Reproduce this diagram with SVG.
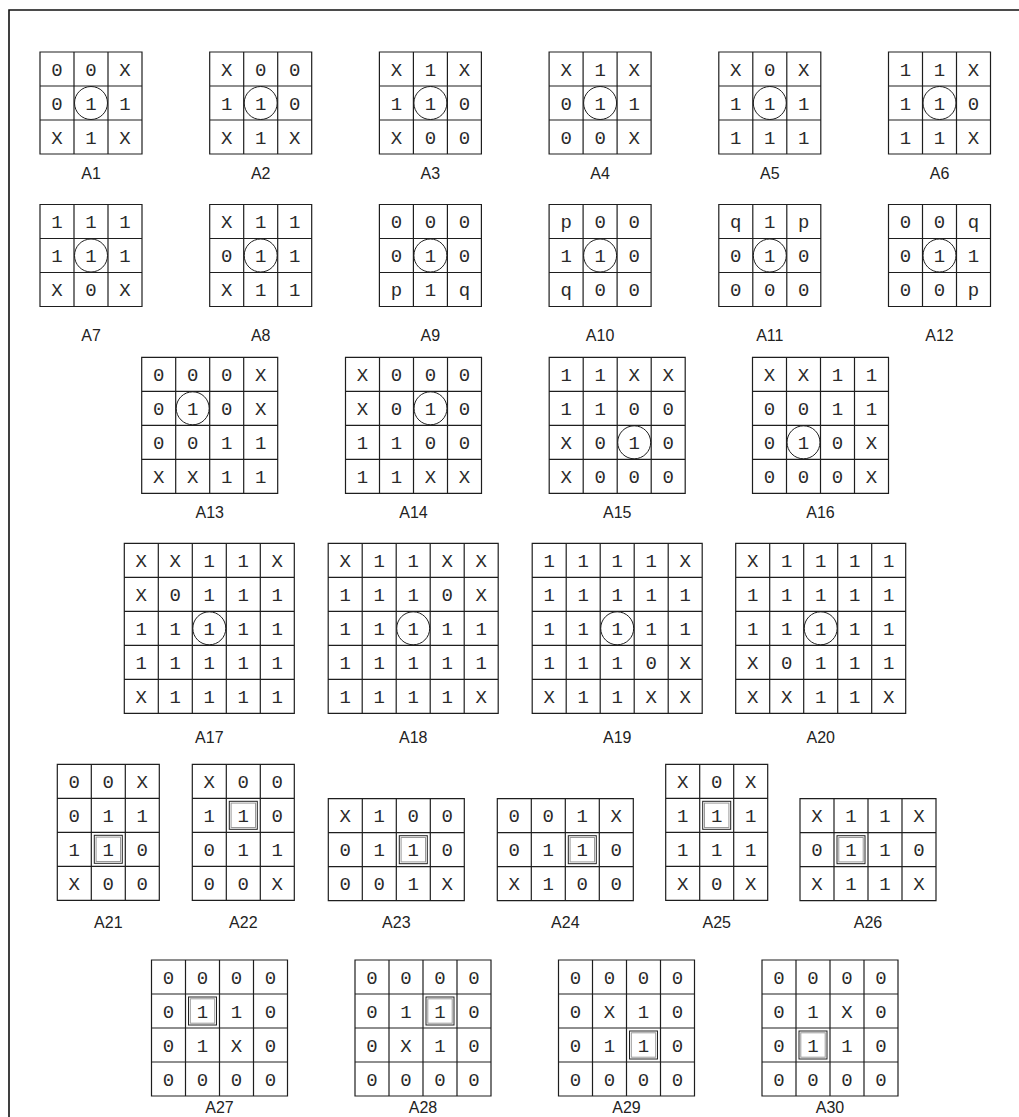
<svg xmlns="http://www.w3.org/2000/svg" xmlns:xlink="http://www.w3.org/1999/xlink" width="1019" height="1117" viewBox="0 0 1019 1117">
<style>
.g{fill:none;stroke:#1e1e1e;stroke-width:1.2}
.t text{font-family:"Liberation Mono","DejaVu Sans Mono",monospace;font-size:19px;fill:#2a2a2a;text-anchor:middle}
.t text.l{font-family:"Liberation Sans","DejaVu Sans",sans-serif;font-size:16px;fill:#222}
.ci{fill:none;stroke:#1e1e1e;stroke-width:1}
</style>
<defs>
<path id="g33" class="g" d="M0 0H102V102H0Z M34 0V102 M68 0V102 M0 34H102 M0 68H102"/>
<path id="g44" class="g" d="M0 0H136V136H0Z M34 0V136 M68 0V136 M102 0V136 M0 34H136 M0 68H136 M0 102H136"/>
<path id="g55" class="g" d="M0 0H170V170H0Z M34 0V170 M68 0V170 M102 0V170 M136 0V170 M0 34H170 M0 68H170 M0 102H170 M0 136H170"/>
<path id="g34" class="g" d="M0 0H102V136H0Z M34 0V136 M68 0V136 M0 34H102 M0 68H102 M0 102H102"/>
<path id="g43" class="g" d="M0 0H136V102H0Z M34 0V102 M68 0V102 M102 0V102 M0 34H136 M0 68H136"/>
<g id="bx"><rect x="0" y="0" width="28" height="28" fill="none" stroke="#222" stroke-width="1"/><rect x="1.8" y="1.8" width="24.4" height="24.4" fill="none" stroke="#9a9a9a" stroke-width="1"/></g>
</defs>
<rect width="1019" height="1117" fill="#fff"/>
<path d="M9 1117V10H1019" fill="none" stroke="#111" stroke-width="1.6"/>
<g class="t">
<!-- Row 1 -->
<g id="A1" transform="translate(40,52)"><use href="#g33"/><circle class="ci" cx="51" cy="51" r="16.5"/>
<text x="17" y="23.5">0</text><text x="51" y="23.5">0</text><text x="85" y="23.5">X</text>
<text x="17" y="57.5">0</text><text x="51" y="57.5">1</text><text x="85" y="57.5">1</text>
<text x="17" y="91.5">X</text><text x="51" y="91.5">1</text><text x="85" y="91.5">X</text>
<text class="l" x="51" y="127">A1</text></g>
<g id="A2" transform="translate(209.7,52)"><use href="#g33"/><circle class="ci" cx="51" cy="51" r="16.5"/>
<text x="17" y="23.5">X</text><text x="51" y="23.5">0</text><text x="85" y="23.5">0</text>
<text x="17" y="57.5">1</text><text x="51" y="57.5">1</text><text x="85" y="57.5">0</text>
<text x="17" y="91.5">X</text><text x="51" y="91.5">1</text><text x="85" y="91.5">X</text>
<text class="l" x="51" y="127">A2</text></g>
<g id="A3" transform="translate(379.4,52)"><use href="#g33"/><circle class="ci" cx="51" cy="51" r="16.5"/>
<text x="17" y="23.5">X</text><text x="51" y="23.5">1</text><text x="85" y="23.5">X</text>
<text x="17" y="57.5">1</text><text x="51" y="57.5">1</text><text x="85" y="57.5">0</text>
<text x="17" y="91.5">X</text><text x="51" y="91.5">0</text><text x="85" y="91.5">0</text>
<text class="l" x="51" y="127">A3</text></g>
<g id="A4" transform="translate(549.1,52)"><use href="#g33"/><circle class="ci" cx="51" cy="51" r="16.5"/>
<text x="17" y="23.5">X</text><text x="51" y="23.5">1</text><text x="85" y="23.5">X</text>
<text x="17" y="57.5">0</text><text x="51" y="57.5">1</text><text x="85" y="57.5">1</text>
<text x="17" y="91.5">0</text><text x="51" y="91.5">0</text><text x="85" y="91.5">X</text>
<text class="l" x="51" y="127">A4</text></g>
<g id="A5" transform="translate(718.8,52)"><use href="#g33"/><circle class="ci" cx="51" cy="51" r="16.5"/>
<text x="17" y="23.5">X</text><text x="51" y="23.5">0</text><text x="85" y="23.5">X</text>
<text x="17" y="57.5">1</text><text x="51" y="57.5">1</text><text x="85" y="57.5">1</text>
<text x="17" y="91.5">1</text><text x="51" y="91.5">1</text><text x="85" y="91.5">1</text>
<text class="l" x="51" y="127">A5</text></g>
<g id="A6" transform="translate(888.5,52)"><use href="#g33"/><circle class="ci" cx="51" cy="51" r="16.5"/>
<text x="17" y="23.5">1</text><text x="51" y="23.5">1</text><text x="85" y="23.5">X</text>
<text x="17" y="57.5">1</text><text x="51" y="57.5">1</text><text x="85" y="57.5">0</text>
<text x="17" y="91.5">1</text><text x="51" y="91.5">1</text><text x="85" y="91.5">X</text>
<text class="l" x="51" y="127">A6</text></g>
<!-- Row 2 -->
<g id="A7" transform="translate(40,204.5)"><use href="#g33"/><circle class="ci" cx="51" cy="51" r="16.5"/>
<text x="17" y="23.5">1</text><text x="51" y="23.5">1</text><text x="85" y="23.5">1</text>
<text x="17" y="57.5">1</text><text x="51" y="57.5">1</text><text x="85" y="57.5">1</text>
<text x="17" y="91.5">X</text><text x="51" y="91.5">0</text><text x="85" y="91.5">X</text>
<text class="l" x="51" y="136.5">A7</text></g>
<g id="A8" transform="translate(209.7,204.5)"><use href="#g33"/><circle class="ci" cx="51" cy="51" r="16.5"/>
<text x="17" y="23.5">X</text><text x="51" y="23.5">1</text><text x="85" y="23.5">1</text>
<text x="17" y="57.5">0</text><text x="51" y="57.5">1</text><text x="85" y="57.5">1</text>
<text x="17" y="91.5">X</text><text x="51" y="91.5">1</text><text x="85" y="91.5">1</text>
<text class="l" x="51" y="136.5">A8</text></g>
<g id="A9" transform="translate(379.4,204.5)"><use href="#g33"/><circle class="ci" cx="51" cy="51" r="16.5"/>
<text x="17" y="23.5">0</text><text x="51" y="23.5">0</text><text x="85" y="23.5">0</text>
<text x="17" y="57.5">0</text><text x="51" y="57.5">1</text><text x="85" y="57.5">0</text>
<text x="17" y="91.5">p</text><text x="51" y="91.5">1</text><text x="85" y="91.5">q</text>
<text class="l" x="51" y="136.5">A9</text></g>
<g id="A10" transform="translate(549.1,204.5)"><use href="#g33"/><circle class="ci" cx="51" cy="51" r="16.5"/>
<text x="17" y="23.5">p</text><text x="51" y="23.5">0</text><text x="85" y="23.5">0</text>
<text x="17" y="57.5">1</text><text x="51" y="57.5">1</text><text x="85" y="57.5">0</text>
<text x="17" y="91.5">q</text><text x="51" y="91.5">0</text><text x="85" y="91.5">0</text>
<text class="l" x="51" y="136.5">A10</text></g>
<g id="A11" transform="translate(718.8,204.5)"><use href="#g33"/><circle class="ci" cx="51" cy="51" r="16.5"/>
<text x="17" y="23.5">q</text><text x="51" y="23.5">1</text><text x="85" y="23.5">p</text>
<text x="17" y="57.5">0</text><text x="51" y="57.5">1</text><text x="85" y="57.5">0</text>
<text x="17" y="91.5">0</text><text x="51" y="91.5">0</text><text x="85" y="91.5">0</text>
<text class="l" x="51" y="136.5">A11</text></g>
<g id="A12" transform="translate(888.5,204.5)"><use href="#g33"/><circle class="ci" cx="51" cy="51" r="16.5"/>
<text x="17" y="23.5">0</text><text x="51" y="23.5">0</text><text x="85" y="23.5">q</text>
<text x="17" y="57.5">0</text><text x="51" y="57.5">1</text><text x="85" y="57.5">1</text>
<text x="17" y="91.5">0</text><text x="51" y="91.5">0</text><text x="85" y="91.5">p</text>
<text class="l" x="51" y="136.5">A12</text></g>
<!-- Row 3 -->
<g id="A13" transform="translate(141.7,357.3)"><use href="#g44"/><circle class="ci" cx="51" cy="51" r="16.5"/>
<text x="17" y="23.5">0</text><text x="51" y="23.5">0</text><text x="85" y="23.5">0</text><text x="119" y="23.5">X</text>
<text x="17" y="57.5">0</text><text x="51" y="57.5">1</text><text x="85" y="57.5">0</text><text x="119" y="57.5">X</text>
<text x="17" y="91.5">0</text><text x="51" y="91.5">0</text><text x="85" y="91.5">1</text><text x="119" y="91.5">1</text>
<text x="17" y="125.5">X</text><text x="51" y="125.5">X</text><text x="85" y="125.5">1</text><text x="119" y="125.5">1</text>
<text class="l" x="68" y="160.4">A13</text></g>
<g id="A14" transform="translate(345.5,357.3)"><use href="#g44"/><circle class="ci" cx="85" cy="51" r="16.5"/>
<text x="17" y="23.5">X</text><text x="51" y="23.5">0</text><text x="85" y="23.5">0</text><text x="119" y="23.5">0</text>
<text x="17" y="57.5">X</text><text x="51" y="57.5">0</text><text x="85" y="57.5">1</text><text x="119" y="57.5">0</text>
<text x="17" y="91.5">1</text><text x="51" y="91.5">1</text><text x="85" y="91.5">0</text><text x="119" y="91.5">0</text>
<text x="17" y="125.5">1</text><text x="51" y="125.5">1</text><text x="85" y="125.5">X</text><text x="119" y="125.5">X</text>
<text class="l" x="68" y="160.4">A14</text></g>
<g id="A15" transform="translate(549.2,357.3)"><use href="#g44"/><circle class="ci" cx="85" cy="85" r="16.5"/>
<text x="17" y="23.5">1</text><text x="51" y="23.5">1</text><text x="85" y="23.5">X</text><text x="119" y="23.5">X</text>
<text x="17" y="57.5">1</text><text x="51" y="57.5">1</text><text x="85" y="57.5">0</text><text x="119" y="57.5">0</text>
<text x="17" y="91.5">X</text><text x="51" y="91.5">0</text><text x="85" y="91.5">1</text><text x="119" y="91.5">0</text>
<text x="17" y="125.5">X</text><text x="51" y="125.5">0</text><text x="85" y="125.5">0</text><text x="119" y="125.5">0</text>
<text class="l" x="68" y="160.4">A15</text></g>
<g id="A16" transform="translate(752.5,357.3)"><use href="#g44"/><circle class="ci" cx="51" cy="85" r="16.5"/>
<text x="17" y="23.5">X</text><text x="51" y="23.5">X</text><text x="85" y="23.5">1</text><text x="119" y="23.5">1</text>
<text x="17" y="57.5">0</text><text x="51" y="57.5">0</text><text x="85" y="57.5">1</text><text x="119" y="57.5">1</text>
<text x="17" y="91.5">0</text><text x="51" y="91.5">1</text><text x="85" y="91.5">0</text><text x="119" y="91.5">X</text>
<text x="17" y="125.5">0</text><text x="51" y="125.5">0</text><text x="85" y="125.5">0</text><text x="119" y="125.5">X</text>
<text class="l" x="68" y="160.4">A16</text></g>
<!-- Row 4 -->
<g id="A17" transform="translate(124.3,543.3)"><use href="#g55"/><circle class="ci" cx="85" cy="85" r="16.5"/>
<text x="17" y="23.5">X</text><text x="51" y="23.5">X</text><text x="85" y="23.5">1</text><text x="119" y="23.5">1</text><text x="153" y="23.5">X</text>
<text x="17" y="57.5">X</text><text x="51" y="57.5">0</text><text x="85" y="57.5">1</text><text x="119" y="57.5">1</text><text x="153" y="57.5">1</text>
<text x="17" y="91.5">1</text><text x="51" y="91.5">1</text><text x="85" y="91.5">1</text><text x="119" y="91.5">1</text><text x="153" y="91.5">1</text>
<text x="17" y="125.5">1</text><text x="51" y="125.5">1</text><text x="85" y="125.5">1</text><text x="119" y="125.5">1</text><text x="153" y="125.5">1</text>
<text x="17" y="159.5">X</text><text x="51" y="159.5">1</text><text x="85" y="159.5">1</text><text x="119" y="159.5">1</text><text x="153" y="159.5">1</text>
<text class="l" x="85" y="199.4">A17</text></g>
<g id="A18" transform="translate(328.2,543.3)"><use href="#g55"/><circle class="ci" cx="85" cy="85" r="16.5"/>
<text x="17" y="23.5">X</text><text x="51" y="23.5">1</text><text x="85" y="23.5">1</text><text x="119" y="23.5">X</text><text x="153" y="23.5">X</text>
<text x="17" y="57.5">1</text><text x="51" y="57.5">1</text><text x="85" y="57.5">1</text><text x="119" y="57.5">0</text><text x="153" y="57.5">X</text>
<text x="17" y="91.5">1</text><text x="51" y="91.5">1</text><text x="85" y="91.5">1</text><text x="119" y="91.5">1</text><text x="153" y="91.5">1</text>
<text x="17" y="125.5">1</text><text x="51" y="125.5">1</text><text x="85" y="125.5">1</text><text x="119" y="125.5">1</text><text x="153" y="125.5">1</text>
<text x="17" y="159.5">1</text><text x="51" y="159.5">1</text><text x="85" y="159.5">1</text><text x="119" y="159.5">1</text><text x="153" y="159.5">X</text>
<text class="l" x="85" y="199.4">A18</text></g>
<g id="A19" transform="translate(532.2,543.3)"><use href="#g55"/><circle class="ci" cx="85" cy="85" r="16.5"/>
<text x="17" y="23.5">1</text><text x="51" y="23.5">1</text><text x="85" y="23.5">1</text><text x="119" y="23.5">1</text><text x="153" y="23.5">X</text>
<text x="17" y="57.5">1</text><text x="51" y="57.5">1</text><text x="85" y="57.5">1</text><text x="119" y="57.5">1</text><text x="153" y="57.5">1</text>
<text x="17" y="91.5">1</text><text x="51" y="91.5">1</text><text x="85" y="91.5">1</text><text x="119" y="91.5">1</text><text x="153" y="91.5">1</text>
<text x="17" y="125.5">1</text><text x="51" y="125.5">1</text><text x="85" y="125.5">1</text><text x="119" y="125.5">0</text><text x="153" y="125.5">X</text>
<text x="17" y="159.5">X</text><text x="51" y="159.5">1</text><text x="85" y="159.5">1</text><text x="119" y="159.5">X</text><text x="153" y="159.5">X</text>
<text class="l" x="85" y="199.4">A19</text></g>
<g id="A20" transform="translate(735.7,543.3)"><use href="#g55"/><circle class="ci" cx="85" cy="85" r="16.5"/>
<text x="17" y="23.5">X</text><text x="51" y="23.5">1</text><text x="85" y="23.5">1</text><text x="119" y="23.5">1</text><text x="153" y="23.5">1</text>
<text x="17" y="57.5">1</text><text x="51" y="57.5">1</text><text x="85" y="57.5">1</text><text x="119" y="57.5">1</text><text x="153" y="57.5">1</text>
<text x="17" y="91.5">1</text><text x="51" y="91.5">1</text><text x="85" y="91.5">1</text><text x="119" y="91.5">1</text><text x="153" y="91.5">1</text>
<text x="17" y="125.5">X</text><text x="51" y="125.5">0</text><text x="85" y="125.5">1</text><text x="119" y="125.5">1</text><text x="153" y="125.5">1</text>
<text x="17" y="159.5">X</text><text x="51" y="159.5">X</text><text x="85" y="159.5">1</text><text x="119" y="159.5">1</text><text x="153" y="159.5">X</text>
<text class="l" x="85" y="199.4">A20</text></g>
<!-- Row 5 -->
<g id="A21" transform="translate(57.3,764.3)"><use href="#g34"/><use href="#bx" x="37" y="71"/>
<text x="17" y="23.5">0</text><text x="51" y="23.5">0</text><text x="85" y="23.5">X</text>
<text x="17" y="57.5">0</text><text x="51" y="57.5">1</text><text x="85" y="57.5">1</text>
<text x="17" y="91.5">1</text><text x="51" y="91.5">1</text><text x="85" y="91.5">0</text>
<text x="17" y="125.5">X</text><text x="51" y="125.5">0</text><text x="85" y="125.5">0</text>
<text class="l" x="51" y="163.4">A21</text></g>
<g id="A22" transform="translate(192.3,764.3)"><use href="#g34"/><use href="#bx" x="37" y="37"/>
<text x="17" y="23.5">X</text><text x="51" y="23.5">0</text><text x="85" y="23.5">0</text>
<text x="17" y="57.5">1</text><text x="51" y="57.5">1</text><text x="85" y="57.5">0</text>
<text x="17" y="91.5">0</text><text x="51" y="91.5">1</text><text x="85" y="91.5">1</text>
<text x="17" y="125.5">0</text><text x="51" y="125.5">0</text><text x="85" y="125.5">X</text>
<text class="l" x="51" y="163.4">A22</text></g>
<g id="A23" transform="translate(328.3,798.7)"><use href="#g43"/><use href="#bx" x="71" y="37"/>
<text x="17" y="23.5">X</text><text x="51" y="23.5">1</text><text x="85" y="23.5">0</text><text x="119" y="23.5">0</text>
<text x="17" y="57.5">0</text><text x="51" y="57.5">1</text><text x="85" y="57.5">1</text><text x="119" y="57.5">0</text>
<text x="17" y="91.5">0</text><text x="51" y="91.5">0</text><text x="85" y="91.5">1</text><text x="119" y="91.5">X</text>
<text class="l" x="68" y="129">A23</text></g>
<g id="A24" transform="translate(497.3,798.7)"><use href="#g43"/><use href="#bx" x="71" y="37"/>
<text x="17" y="23.5">0</text><text x="51" y="23.5">0</text><text x="85" y="23.5">1</text><text x="119" y="23.5">X</text>
<text x="17" y="57.5">0</text><text x="51" y="57.5">1</text><text x="85" y="57.5">1</text><text x="119" y="57.5">0</text>
<text x="17" y="91.5">X</text><text x="51" y="91.5">1</text><text x="85" y="91.5">0</text><text x="119" y="91.5">0</text>
<text class="l" x="68" y="129">A24</text></g>
<g id="A25" transform="translate(665.7,764.3)"><use href="#g34"/><use href="#bx" x="37" y="37"/>
<text x="17" y="23.5">X</text><text x="51" y="23.5">0</text><text x="85" y="23.5">X</text>
<text x="17" y="57.5">1</text><text x="51" y="57.5">1</text><text x="85" y="57.5">1</text>
<text x="17" y="91.5">1</text><text x="51" y="91.5">1</text><text x="85" y="91.5">1</text>
<text x="17" y="125.5">X</text><text x="51" y="125.5">0</text><text x="85" y="125.5">X</text>
<text class="l" x="51" y="163.4">A25</text></g>
<g id="A26" transform="translate(800,798.7)"><use href="#g43"/><use href="#bx" x="37" y="37"/>
<text x="17" y="23.5">X</text><text x="51" y="23.5">1</text><text x="85" y="23.5">1</text><text x="119" y="23.5">X</text>
<text x="17" y="57.5">0</text><text x="51" y="57.5">1</text><text x="85" y="57.5">1</text><text x="119" y="57.5">0</text>
<text x="17" y="91.5">X</text><text x="51" y="91.5">1</text><text x="85" y="91.5">1</text><text x="119" y="91.5">X</text>
<text class="l" x="68" y="129">A26</text></g>
<!-- Row 6 -->
<g id="A27" transform="translate(151.5,960)"><use href="#g44"/><use href="#bx" x="37" y="37"/>
<text x="17" y="23.5">0</text><text x="51" y="23.5">0</text><text x="85" y="23.5">0</text><text x="119" y="23.5">0</text>
<text x="17" y="57.5">0</text><text x="51" y="57.5">1</text><text x="85" y="57.5">1</text><text x="119" y="57.5">0</text>
<text x="17" y="91.5">0</text><text x="51" y="91.5">1</text><text x="85" y="91.5">X</text><text x="119" y="91.5">0</text>
<text x="17" y="125.5">0</text><text x="51" y="125.5">0</text><text x="85" y="125.5">0</text><text x="119" y="125.5">0</text>
<text class="l" x="68" y="153">A27</text></g>
<g id="A28" transform="translate(355,960)"><use href="#g44"/><use href="#bx" x="71" y="37"/>
<text x="17" y="23.5">0</text><text x="51" y="23.5">0</text><text x="85" y="23.5">0</text><text x="119" y="23.5">0</text>
<text x="17" y="57.5">0</text><text x="51" y="57.5">1</text><text x="85" y="57.5">1</text><text x="119" y="57.5">0</text>
<text x="17" y="91.5">0</text><text x="51" y="91.5">X</text><text x="85" y="91.5">1</text><text x="119" y="91.5">0</text>
<text x="17" y="125.5">0</text><text x="51" y="125.5">0</text><text x="85" y="125.5">0</text><text x="119" y="125.5">0</text>
<text class="l" x="68" y="153">A28</text></g>
<g id="A29" transform="translate(558.5,960)"><use href="#g44"/><use href="#bx" x="71" y="71"/>
<text x="17" y="23.5">0</text><text x="51" y="23.5">0</text><text x="85" y="23.5">0</text><text x="119" y="23.5">0</text>
<text x="17" y="57.5">0</text><text x="51" y="57.5">X</text><text x="85" y="57.5">1</text><text x="119" y="57.5">0</text>
<text x="17" y="91.5">0</text><text x="51" y="91.5">1</text><text x="85" y="91.5">1</text><text x="119" y="91.5">0</text>
<text x="17" y="125.5">0</text><text x="51" y="125.5">0</text><text x="85" y="125.5">0</text><text x="119" y="125.5">0</text>
<text class="l" x="68" y="153">A29</text></g>
<g id="A30" transform="translate(762,960)"><use href="#g44"/><use href="#bx" x="37" y="71"/>
<text x="17" y="23.5">0</text><text x="51" y="23.5">0</text><text x="85" y="23.5">0</text><text x="119" y="23.5">0</text>
<text x="17" y="57.5">0</text><text x="51" y="57.5">1</text><text x="85" y="57.5">X</text><text x="119" y="57.5">0</text>
<text x="17" y="91.5">0</text><text x="51" y="91.5">1</text><text x="85" y="91.5">1</text><text x="119" y="91.5">0</text>
<text x="17" y="125.5">0</text><text x="51" y="125.5">0</text><text x="85" y="125.5">0</text><text x="119" y="125.5">0</text>
<text class="l" x="68" y="153">A30</text></g>
</g>
<g id="connectors"/>
</svg>
